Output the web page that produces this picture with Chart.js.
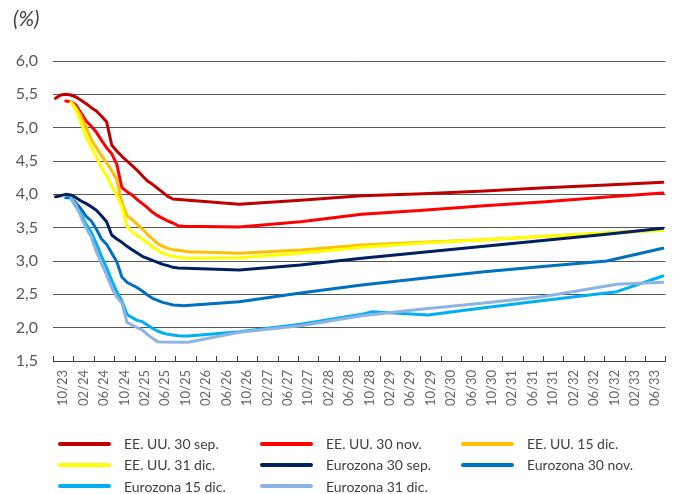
<!DOCTYPE html>
<html lang="es">
<head>
<meta charset="utf-8">
<title>Curvas forward de tipos de interés</title>
<script src="https://cdn.jsdelivr.net/npm/chart.js@4.4.1/dist/chart.umd.min.js"></script>
<style>
  html, body { margin: 0; padding: 0; background: #fff; }
  #wrap { position: relative; width: 680px; height: 494px; font-family: Lato, "Open Sans", sans-serif; }
  #unit { position: absolute; left: 13px; top: 5px; font-size: 21px; font-style: italic; color: #404040; }
  #legend { position: absolute; left: 0; top: 433px; width: 680px; height: 64px; }
  .item { position: absolute; height: 21px; display: flex; align-items: center; font-size: 14px; color: #404040; white-space: nowrap; }
  .swatch { width: 53px; height: 4px; border-radius: 2px; margin-right: 13px; }
</style>
</head>
<body>
<div id="wrap">
  <canvas id="chart" width="680" height="494"></canvas>
  <div id="unit">(%)</div>
  <div id="legend"></div>
</div>
<script>
// Axis labels (one label every four months, first month 10/23)
const tickLabels = ['10/23','02/24','06/24','10/24','02/25','06/25','10/25','02/26','06/26','10/26',
  '02/27','06/27','10/27','02/28','06/28','10/28','02/29','06/29','10/29','02/30',
  '06/30','10/30','02/31','06/31','10/31','02/32','06/32','10/32','02/33','06/33'];
const yTicks = [1.5, 2.0, 2.5, 3.0, 3.5, 4.0, 4.5, 5.0, 5.5, 6.0];

// Series labels
const seriesNames = ['EE. UU. 30 sep.', 'EE. UU. 30 nov.', 'EE. UU. 15 dic.', 'EE. UU. 31 dic.',
  'Eurozona 30 sep.', 'Eurozona 30 nov.', 'Eurozona 15 dic.', 'Eurozona 31 dic.'];

// Implied policy-rate paths, [month (MM/YY), %]
const usSep30 = [['10/23',5.44],['11/23',5.49],['12/23',5.50],['01/24',5.49],['02/24',5.46],['03/24',5.41],
  ['04/24',5.36],['05/24',5.30],['06/24',5.25],['07/24',5.17],['08/24',5.09],['09/24',4.74],['10/24',4.65],
  ['11/24',4.57],['12/24',4.50],['01/25',4.43],['02/25',4.36],['03/25',4.28],['04/25',4.20],['05/25',4.15],
  ['06/25',4.09],['07/25',4.03],['08/25',3.97],['09/25',3.93],['10/26',3.85],['10/27',3.91],['10/28',3.98],
  ['10/29',4.01],['10/30',4.05],['10/31',4.10],['10/32',4.14],['09/33',4.18]];
const usNov30 = [['12/23',5.40],['01/24',5.39],['02/24',5.34],['03/24',5.22],['04/24',5.10],['05/24',5.02],
  ['06/24',4.93],['07/24',4.81],['08/24',4.70],['09/24',4.61],['10/24',4.45],['11/24',4.10],['12/24',4.04],
  ['01/25',3.99],['02/25',3.92],['03/25',3.86],['04/25',3.80],['05/25',3.73],['06/25',3.68],['07/25',3.64],
  ['08/25',3.60],['09/25',3.57],['10/25',3.53],['11/25',3.52],['10/26',3.51],['10/27',3.59],['10/28',3.70],
  ['10/29',3.76],['10/30',3.83],['10/31',3.89],['10/32',3.96],['09/33',4.02]];
const usDec15 = [['01/24',5.39],['02/24',5.30],['03/24',5.17],['04/24',5.00],['05/24',4.82],['06/24',4.70],
  ['07/24',4.58],['08/24',4.47],['09/24',4.36],['10/24',4.22],['11/24',3.88],['12/24',3.68],['01/25',3.62],
  ['02/25',3.55],['03/25',3.48],['04/25',3.40],['05/25',3.33],['06/25',3.26],['07/25',3.22],['08/25',3.19],
  ['09/25',3.17],['10/25',3.16],['11/25',3.15],['12/25',3.14],['10/26',3.115],['10/27',3.165],['10/28',3.24],
  ['10/29',3.28],['10/30',3.32],['10/31',3.37],['10/32',3.42],['09/33',3.465]];
const usDec31 = [['01/24',5.38],['02/24',5.27],['03/24',5.08],['04/24',4.86],['05/24',4.71],['06/24',4.56],
  ['07/24',4.40],['08/24',4.28],['09/24',4.12],['10/24',3.99],['11/24',3.82],['12/24',3.52],['01/25',3.44],
  ['02/25',3.38],['03/25',3.33],['04/25',3.27],['05/25',3.21],['06/25',3.16],['07/25',3.12],['08/25',3.09],
  ['09/25',3.07],['10/25',3.055],['11/25',3.045],['12/25',3.04],['10/26',3.05],['10/27',3.115],['10/28',3.205],
  ['10/29',3.27],['10/30',3.32],['10/31',3.37],['10/32',3.42],['09/33',3.46]];
const euSep30 = [['10/23',3.965],['11/23',3.98],['12/23',4.00],['01/24',3.99],['02/24',3.95],['03/24',3.90],
  ['04/24',3.86],['05/24',3.815],['06/24',3.76],['07/24',3.68],['08/24',3.59],['09/24',3.39],['10/24',3.33],
  ['11/24',3.28],['12/24',3.22],['01/25',3.17],['02/25',3.12],['03/25',3.07],['04/25',3.04],['05/25',3.01],
  ['06/25',2.98],['07/25',2.95],['08/25',2.93],['09/25',2.905],['10/25',2.895],['10/26',2.865],['10/27',2.94],
  ['10/28',3.04],['10/29',3.13],['10/30',3.22],['10/31',3.31],['10/32',3.40],['09/33',3.49]];
const euNov30 = [['12/23',3.95],['01/24',3.95],['02/24',3.87],['03/24',3.78],['04/24',3.67],['05/24',3.60],
  ['06/24',3.48],['07/24',3.33],['08/24',3.25],['09/24',3.12],['10/24',2.99],['11/24',2.76],['12/24',2.68],
  ['01/25',2.64],['02/25',2.60],['03/25',2.55],['04/25',2.49],['05/25',2.44],['06/25',2.41],['07/25',2.38],
  ['08/25',2.36],['09/25',2.34],['10/25',2.335],['11/25',2.33],['10/26',2.39],['10/27',2.52],['10/28',2.64],
  ['10/29',2.74],['10/30',2.84],['10/31',2.92],['10/32',3.00],['09/33',3.19]];
const euDec15 = [['01/24',3.94],['02/24',3.82],['03/24',3.70],['04/24',3.55],['05/24',3.43],['06/24',3.26],
  ['07/24',3.07],['08/24',2.90],['09/24',2.71],['10/24',2.54],['11/24',2.40],['12/24',2.20],['01/25',2.15],
  ['02/25',2.11],['03/25',2.09],['04/25',2.04],['05/25',1.99],['06/25',1.95],['07/25',1.92],['08/25',1.90],
  ['09/25',1.89],['10/25',1.88],['11/25',1.875],['12/25',1.875],['10/26',1.94],['10/27',2.05],['10/28',2.20],
  ['12/28',2.24],['11/29',2.19],['10/30',2.30],['10/31',2.41],['12/32',2.54],['09/33',2.775]];
const euDec31 = [['01/24',3.94],['02/24',3.84],['03/24',3.66],['04/24',3.49],['05/24',3.36],['06/24',3.14],
  ['07/24',2.96],['08/24',2.79],['09/24',2.60],['10/24',2.46],['11/24',2.37],['12/24',2.08],['01/25',2.04],
  ['02/25',2.00],['03/25',1.965],['04/25',1.90],['05/25',1.84],['06/25',1.79],['07/25',1.785],['12/25',1.78],
  ['10/26',1.93],['10/27',2.03],['10/28',2.18],['10/29',2.28],['10/30',2.37],['10/31',2.47],['12/32',2.65],
  ['09/33',2.68]];

const seriesData = [usSep30, usNov30, usDec15, usDec31, euSep30, euNov30, euDec15, euDec31];
const seriesColors = ['#c00000', '#ff0000', '#ffc000', '#ffff00', '#002060', '#0070c0', '#00b0f0', '#8db4e2'];

// Each month occupies one slot on the x axis; points sit at the slot centre.
const MONTHS_SHOWN = tickLabels.length * 4;
function monthSlot(label) {
  const [mm, yy] = label.split('/').map(Number);
  return (yy - 23) * 12 + (mm - 10) + 0.5;
}

const datasets = seriesData.map((rows, i) => ({
  label: seriesNames[i],
  data: rows.map(([m, v]) => ({ x: monthSlot(m), y: v })),
  borderColor: seriesColors[i],
  backgroundColor: seriesColors[i],
  borderWidth: 3,
  pointRadius: 0,
  tension: 0,
  fill: false,
  borderJoinStyle: 'round',
  borderCapStyle: 'round',
  order: seriesData.length - i
}));

// Short tick marks pointing up into the plot, at every four-month boundary
const innerTicks = {
  id: 'innerTicks',
  afterDraw(chart) {
    const x = chart.scales.x;
    const { ctx, chartArea } = chart;
    ctx.save();
    ctx.strokeStyle = '#404040';
    ctx.lineWidth = 1;
    ctx.beginPath();
    for (let v = 0; v <= MONTHS_SHOWN; v += 4) {
      const px = Math.round(x.getPixelForValue(v)) + 0.5;
      ctx.moveTo(px, chartArea.bottom);
      ctx.lineTo(px, chartArea.bottom - 5);
    }
    ctx.stroke();
    ctx.restore();
  }
};

const chart = new Chart(document.getElementById('chart'), {
  type: 'line',
  data: { datasets },
  plugins: [innerTicks],
  options: {
    responsive: false,
    animation: false,
    events: [],
    layout: { padding: { top: 61, right: 12, left: 0, bottom: 0 } },
    plugins: { legend: { display: false }, tooltip: { enabled: false }, title: { display: false } },
    scales: {
      x: {
        type: 'linear',
        min: 0,
        max: MONTHS_SHOWN,
        afterBuildTicks(scale) {
          scale.ticks = tickLabels.map((_, i) => ({ value: i * 4 + 2 }));
        },
        afterFit(scale) { scale.height = 133; },
        grid: { display: false, drawTicks: false },
        border: { display: true, color: '#404040', width: 1 },
        ticks: {
          autoSkip: false,
          maxRotation: 90,
          minRotation: 90,
          padding: 9,
          color: '#666666',
          font: { family: 'Lato', size: 13 },
          callback: (v, i) => tickLabels[i]
        }
      },
      y: {
        min: yTicks[0],
        max: yTicks[yTicks.length - 1],
        afterBuildTicks(scale) {
          scale.ticks = yTicks.map(v => ({ value: v }));
        },
        afterFit(scale) { scale.width = 53; },
        grid: { color: '#555555', lineWidth: 1, drawTicks: false },
        border: { display: false },
        ticks: {
          padding: 15,
          color: '#595959',
          font: { family: 'Lato', size: 16 },
          callback: v => v.toFixed(1).replace('.', ',')
        }
      }
    }
  }
});

// Three-column legend built from the chart's datasets
const legendBox = document.getElementById('legend');
const colX = [58, 260, 461];
chart.data.datasets.forEach((ds, i) => {
  const item = document.createElement('div');
  item.className = 'item';
  item.style.left = colX[i % 3] + 'px';
  item.style.top = (Math.floor(i / 3) * 21.3) + 'px';
  const sw = document.createElement('span');
  sw.className = 'swatch';
  sw.style.background = ds.borderColor;
  const tx = document.createElement('span');
  tx.textContent = ds.label;
  item.appendChild(sw);
  item.appendChild(tx);
  legendBox.appendChild(item);
});
</script>
</body>
</html>
